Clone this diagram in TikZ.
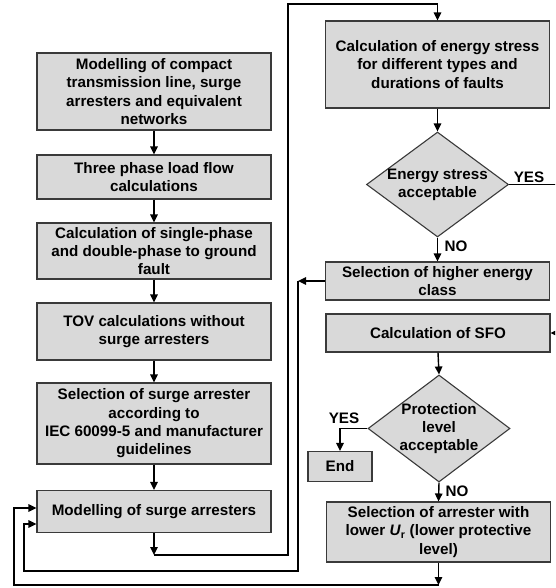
\documentclass[tikz,border=0pt]{standalone}
\usepackage{fontspec}
\setmainfont{Liberation Sans}
\usetikzlibrary{arrows.meta,shapes.geometric}
\definecolor{boxgray}{HTML}{D9D9D9}
\definecolor{edgegray}{HTML}{3A3A3A}

\begin{document}
\begin{tikzpicture}[x=1pt,y=-1pt]
                    \tikzstyle{every node}+=[inner sep=0pt]
                    \tikzstyle{lbl}=[font=\fontsize{15.2}{18.3}\selectfont\bfseries, align=center]
                    \tikzstyle{box}=[lbl, draw=edgegray, line width=1.1pt, fill=boxgray]
                    \tikzstyle{lbox}=[box, minimum width=234]
                    \tikzstyle{rbox}=[box, minimum width=224]
                    \tikzstyle{dia}=[diamond, draw=edgegray, line width=1.1pt, fill=boxgray]
                    \tikzstyle{line}=[line width=1.4pt]
                    \tikzstyle{arr}=[line, -{Triangle[length=8pt,width=7.5pt]}]
                    \useasboundingbox (0,0) rectangle (555,588);
                    \clip (0,0) rectangle (555,588);
                    % left column
                    \node[lbox, minimum height=77] (model) at (154,91.5) {Modelling of compact\\transmission line, surge\\arresters and equivalent\\networks};
                    \node[lbox, minimum height=44] (loadflow) at (154,177) {Three phase load flow\\calculations};
                    \node[lbox, minimum height=56] (fault) at (154,251) {Calculation of single-phase\\and double-phase to ground\\fault};
                    \node[lbox, minimum height=57] (tov) at (154,331.5) {TOV calculations without\\surge arresters};
                    \node[lbox, minimum height=81] (select) at (154,423.5) {Selection of surge arrester\\according to\\IEC 60099-5 and manufacturer\\guidelines};
                    \node[lbox, minimum height=42] (arrmodel) at (154,511.5) {Modelling of surge arresters};
                    % right column
                    \node[rbox, minimum height=87] (energy) at (437.5,64.5) {Calculation of energy stress\\for different types and\\durations of faults};
                    \node[dia, minimum width=142, minimum height=105] (estress) at (437.5,184.5) {};
                    \node[lbl] (estresstxt) at (estress) {Energy stress\\acceptable};
                    \node[rbox, minimum height=38] (higher) at (437.5,281) {Selection of higher energy\\class};
                    \node[rbox, minimum height=38] (sfo) at (438,333) {Calculation of SFO};
                    \node[dia, minimum width=142, minimum height=107] (protect) at (439,428.5) {};
                    \node[lbl] (protecttxt) at (protect) {Protection\\level\\acceptable};
                    \node[box, minimum width=64, minimum height=30] (theend) at (340,466.5) {End};
                    \node[rbox, minimum height=60] (lower) at (438.5,532) {Selection of arrester with\\lower \textit{U}\textsubscript{r} (lower protective\\level)};
                    % labels
                    \node[lbl] (yes1) at (529,177) {YES};
                    \node[lbl] (no1) at (456,246) {NO};
                    \node[lbl] (yes2) at (344,418) {YES};
                    \node[lbl] (no2) at (457,491) {NO};
                    % corners
                    \coordinate (c1) at (154,555);
                    \coordinate (c2) at (298,281);
                    \coordinate (c3) at (438.5,585);
                    % arrows
                    \draw[arr] (model) -- (loadflow);
                    \draw[arr] (loadflow) -- (fault);
                    \draw[arr] (fault) -- (tov);
                    \draw[arr] (tov) -- (select);
                    \draw[arr] (select) -- (arrmodel);
                    \draw[arr] (arrmodel) -- (c1);
                    \draw[arr] (c1) -| (288,4) -| (energy.north);
                    \draw[arr] (energy) -- (estress);
                    \draw[arr] (estress.south) -- (higher.north);
                    \draw[arr] (estress.east) -- (560,184.5) |- (sfo.east);
                    \draw[arr] (higher) -- (c2);
                    \draw[arr] (c2) |- (24,571) |- ([yshift=-12.5pt]arrmodel.west);
                    \draw[arr] (sfo.south) -- (protect.north);
                    \draw[arr] (protect.west) -| (theend.north);
                    \draw[arr] (protect.south) -- (lower.north);
                    \draw[arr] (lower) -- (c3);
                    \draw[arr] (c3) -| (14,508) -- ([yshift=3.5pt]arrmodel.west);
\end{tikzpicture}
\end{document}
